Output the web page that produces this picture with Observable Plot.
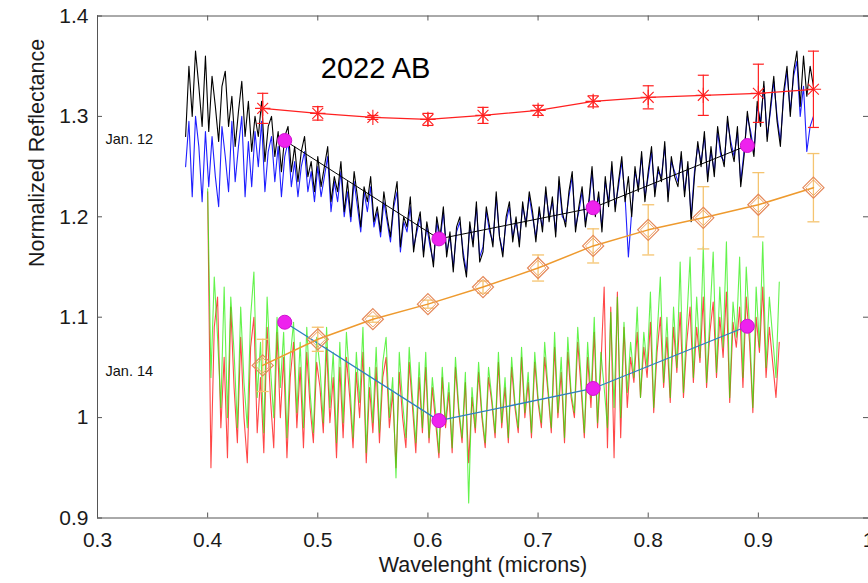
<!DOCTYPE html>
<html><head><meta charset="utf-8">
<script src="https://cdn.jsdelivr.net/npm/d3@7"></script>
<script src="https://cdn.jsdelivr.net/npm/@observablehq/plot@0.6"></script>
<style>body{margin:0;background:#fff}#chart{width:868px;height:583px;overflow:hidden}</style>
</head><body><div id="chart"></div>
<script>
// Tick labels
const xTicks = [0.3, 0.4, 0.5, 0.6, 0.7, 0.8, 0.9, 1.0];
const yTicks = [0.9, 1.0, 1.1, 1.2, 1.3, 1.4];
const xLabel = "Wavelenght (microns)";
const yLabel = "Normalized Reflectance";
const title = "2022 AB";
const dateLabels = ["Jan. 12", "Jan. 14"];

// Spectra sampling grids (start wavelength, step in microns)
const jan12Start = 0.38, jan14Start = 0.40, specStep = 0.003;

// Jan. 12 spectra (black and blue)
const jan12Black = [
 1.28,1.35,1.30,1.365,1.33,1.29,1.36,1.285,1.34,1.31,
 1.275,1.33,1.345,1.29,1.32,1.27,1.305,1.335,1.28,1.315,
 1.265,1.30,1.28,1.315,1.255,1.29,1.30,1.26,1.285,1.245,
 1.28,1.29,1.245,1.27,1.235,1.265,1.28,1.24,1.255,1.225,
 1.26,1.23,1.25,1.27,1.215,1.24,1.225,1.255,1.205,1.235,
 1.20,1.245,1.22,1.19,1.23,1.215,1.24,1.195,1.21,1.185,
 1.225,1.20,1.18,1.215,1.235,1.17,1.20,1.19,1.22,1.165,
 1.19,1.205,1.16,1.195,1.175,1.15,1.20,1.18,1.21,1.16,
 1.185,1.145,1.19,1.20,1.16,1.14,1.195,1.17,1.215,1.155,
 1.165,1.21,1.19,1.17,1.225,1.18,1.16,1.20,1.215,1.175,
 1.20,1.17,1.215,1.19,1.225,1.205,1.175,1.21,1.185,1.23,
 1.195,1.22,1.18,1.24,1.205,1.19,1.225,1.245,1.185,1.21,
 1.23,1.19,1.215,1.25,1.20,1.225,1.185,1.24,1.21,1.255,
 1.205,1.235,1.26,1.215,1.24,1.20,1.25,1.225,1.265,1.215,
 1.245,1.27,1.22,1.25,1.235,1.275,1.215,1.26,1.24,1.23,
 1.265,1.22,1.255,1.195,1.24,1.275,1.25,1.285,1.235,1.27,
 1.24,1.29,1.265,1.25,1.30,1.27,1.255,1.29,1.23,1.26,
 1.305,1.28,1.26,1.315,1.29,1.335,1.275,1.31,1.34,1.295,
 1.27,1.325,1.35,1.30,1.345,1.365,1.31,1.36,1.32,1.35,
 1.33];
const jan12Blue = [
 1.25,1.295,1.22,1.30,1.27,1.215,1.285,1.23,1.28,1.24,
 1.21,1.29,1.26,1.225,1.295,1.235,1.27,1.30,1.22,1.275,
 1.23,1.285,1.25,1.295,1.225,1.265,1.28,1.235,1.27,1.22,
 1.26,1.275,1.23,1.255,1.22,1.25,1.265,1.225,1.245,1.215,
 1.25,1.22,1.24,1.26,1.205,1.235,1.215,1.245,1.20,1.225,
 1.195,1.235,1.21,1.185,1.225,1.205,1.23,1.19,1.205,1.18,
 1.215,1.195,1.175,1.21,1.225,1.165,1.195,1.185,1.21,1.17,
 1.185,1.20,1.165,1.19,1.17,1.155,1.195,1.175,1.205,1.165,
 1.18,1.15,1.185,1.195,1.165,1.145,1.19,1.175,1.21,1.16,
 1.17,1.205,1.185,1.175,1.22,1.18,1.165,1.195,1.21,1.18,
 1.195,1.175,1.21,1.195,1.22,1.20,1.18,1.205,1.19,1.225,
 1.20,1.215,1.185,1.235,1.20,1.195,1.22,1.24,1.19,1.205,
 1.225,1.195,1.21,1.245,1.205,1.22,1.19,1.235,1.215,1.25,
 1.21,1.23,1.255,1.22,1.16,1.205,1.245,1.23,1.26,1.22,
 1.24,1.265,1.225,1.245,1.24,1.27,1.22,1.255,1.245,1.235,
 1.26,1.225,1.25,1.20,1.245,1.27,1.255,1.28,1.24,1.265,
 1.245,1.285,1.26,1.255,1.295,1.275,1.26,1.285,1.235,1.265,
 1.30,1.285,1.265,1.31,1.295,1.33,1.28,1.305,1.335,1.30,
 1.275,1.32,1.345,1.305,1.34,1.355,1.30,1.33,1.265,1.29,
 1.30];

// Jan. 14 spectra (red and green)
const jan14Red = [1.225,
 0.95,1.09,1.12,0.99,1.06,0.96,1.11,1.03,0.975,1.08,
 1.00,0.955,1.07,1.10,0.985,1.04,0.965,1.09,1.02,0.97,
 1.085,1.00,1.06,0.96,1.04,1.075,0.99,1.05,0.97,1.065,
 1.01,0.975,1.055,1.03,0.985,1.07,0.995,1.04,0.96,1.05,
 0.98,1.06,1.02,0.97,1.045,1.00,1.065,0.955,1.03,0.985,
 1.05,0.975,1.04,1.06,0.99,1.025,0.95,1.045,1.00,0.97,
 1.055,1.01,0.965,1.04,0.985,1.05,0.975,1.03,0.995,0.96,
 1.04,0.99,1.025,0.965,1.05,1.005,0.975,1.035,0.955,1.02,
 0.985,1.045,1.00,0.97,1.04,1.015,0.98,1.055,0.99,1.03,
 0.975,1.05,1.01,0.985,1.06,1.00,1.035,0.98,1.055,1.015,
 0.99,1.06,1.025,0.985,1.07,1.00,1.045,0.975,1.065,1.02,
 1.00,1.075,1.03,0.98,1.06,1.01,1.085,0.99,1.05,1.13,
 0.97,1.11,0.96,1.125,0.98,1.09,1.01,1.06,1.035,1.085,
 1.02,1.07,1.04,1.095,1.005,1.065,1.10,1.03,1.08,1.015,
 1.09,1.045,1.105,1.02,1.075,1.11,1.035,1.09,1.055,1.12,
 1.03,1.085,1.115,1.04,1.10,1.06,1.125,1.015,1.095,1.07,
 1.11,1.03,1.12,1.075,1.005,1.10,1.065,1.13,1.04,1.09,
 1.055,1.02,1.075];
const jan14Green = [1.228,
 1.04,1.14,1.08,1.01,1.13,1.00,1.12,1.065,0.99,1.11,
 1.035,0.99,1.10,1.145,1.02,1.075,0.985,1.12,1.05,1.00,
 1.10,1.03,1.085,0.98,1.06,1.095,1.005,1.075,0.99,1.09,
 1.025,0.985,1.08,1.05,0.995,1.09,1.01,1.065,0.975,1.075,
 0.995,1.085,1.035,0.98,1.065,1.015,1.09,0.965,1.05,0.995,
 1.07,0.985,1.055,1.08,1.00,1.04,0.94,1.065,1.015,0.98,
 1.07,1.02,0.975,1.055,0.99,1.065,0.98,1.04,1.005,0.965,
 1.05,0.995,1.035,0.97,1.06,1.01,0.98,1.045,0.915,1.03,
 0.99,1.055,1.005,0.975,1.05,1.02,0.985,1.065,0.995,1.04,
 0.98,1.06,1.015,0.99,1.07,1.005,1.045,0.985,1.065,1.02,
 0.995,1.075,1.03,0.99,1.085,1.005,1.06,0.98,1.08,1.025,
 1.005,1.09,1.04,0.985,1.075,1.02,1.10,0.995,1.065,1.03,
 0.99,1.105,1.01,1.12,1.00,1.095,1.025,1.075,1.04,1.11,
 1.02,1.085,1.05,1.125,1.01,1.08,1.14,1.035,1.10,1.02,
 1.11,1.05,1.155,1.025,1.095,1.16,1.04,1.12,1.06,1.17,
 1.035,1.10,1.165,1.045,1.13,1.07,1.175,1.02,1.115,1.08,
 1.16,1.04,1.15,1.09,1.01,1.13,1.07,1.175,1.05,1.12,
 1.08,1.04,1.135];

// Photometric points (magenta)
const photX = [0.47, 0.61, 0.75, 0.89];
const phot12 = [1.276, 1.178, 1.209, 1.271];
const phot14 = [1.095, 0.997, 1.029, 1.091];

// Red asterisk series with error bars
const refX = [0.45, 0.50, 0.55, 0.60, 0.65, 0.70, 0.75, 0.80, 0.85, 0.90, 0.95];
const redY = [1.308, 1.303, 1.299, 1.297, 1.301, 1.306, 1.315, 1.319, 1.321, 1.323, 1.327];
const redErr = [0.015, 0.0067, 0.002, 0.006, 0.008, 0.005, 0.0055, 0.0115, 0.02, 0.029, 0.038];
// Orange diamond series with error bars
const orangeY = [1.052, 1.078, 1.098, 1.113, 1.13, 1.149, 1.171, 1.187, 1.199, 1.212, 1.229];
const orangeErr = [0.026, 0.012, 0.003, 0.004, 0.006, 0.013, 0.017, 0.025, 0.031, 0.032, 0.034];

// ---- tables built from the arrays ----
const spec = (vals, start) => vals.map((y, i) => ({x: +(start + i * specStep).toFixed(4), y}));
const black12 = spec(jan12Black, jan12Start), blue12 = spec(jan12Blue, jan12Start);
const red14 = spec(jan14Red, jan14Start), green14 = spec(jan14Green, jan14Start);
const p12 = photX.map((x, i) => ({x, y: phot12[i]}));
const p14 = photX.map((x, i) => ({x, y: phot14[i]}));
const redPts = refX.map((x, i) => ({x, y: redY[i], e: redErr[i]}));
const orPts = refX.map((x, i) => ({x, y: orangeY[i], e: orangeErr[i]}));

const capSymbol = {draw(ctx, size) { const r = Math.sqrt(size / Math.PI); ctx.moveTo(-r, 0); ctx.lineTo(r, 0); }};

const axisCol = "#555";
const textCol = "#1a1a1a";
const font = "'Liberation Sans', Arial, Helvetica, sans-serif";
const W = 868, H = 583, mL = 97, mR = 0, mT = 15.5, mB = 65.5;
const fw = W - mL - mR, fh = H - mT - mB;

const chart = Plot.plot({
  width: W, height: H,
  marginLeft: mL, marginRight: mR, marginTop: mT, marginBottom: mB,
  x: {domain: [0.3, 1.0]},
  y: {domain: [0.9, 1.4]},
  style: {fontFamily: font, background: "#fff", color: textCol},
  marks: [
    // spectra
    Plot.line(blue12, {x: "x", y: "y", stroke: "#1f1fff", strokeWidth: 1.1}),
    Plot.line(black12, {x: "x", y: "y", stroke: "#000", strokeWidth: 1.1}),
    Plot.line(red14, {x: "x", y: "y", stroke: "#ff1a1a", strokeWidth: 1.1, strokeOpacity: 0.8}),
    Plot.line(green14, {x: "x", y: "y", stroke: "#22ee00", strokeWidth: 1.1, strokeOpacity: 0.7}),
    // connecting lines of photometric points
    Plot.line(p12, {x: "x", y: "y", stroke: "#000", strokeWidth: 1}),
    Plot.line(p14, {x: "x", y: "y", stroke: "#2f7fc0", strokeWidth: 1.3}),
    // orange series
    Plot.ruleX(orPts, {x: "x", y1: d => d.y - d.e, y2: d => d.y + d.e, stroke: "#f5c470", strokeWidth: 1.3}),
    Plot.dot(orPts, {x: "x", y: d => d.y - d.e, symbol: capSymbol, r: 6, stroke: "#f5c470", strokeWidth: 1.3}),
    Plot.dot(orPts, {x: "x", y: d => d.y + d.e, symbol: capSymbol, r: 6, stroke: "#f5c470", strokeWidth: 1.3}),
    Plot.line(orPts, {x: "x", y: "y", stroke: "#ee9a2e", strokeWidth: 1.5}),
    Plot.dot(orPts, {x: "x", y: "y", symbol: "diamond2", r: 9.5, stroke: "#e5895a", strokeWidth: 1.2, fill: "none"}),
    Plot.dot(orPts, {x: "x", y: "y", symbol: "diamond2", r: 7, stroke: "#eea060", strokeWidth: 1, fill: "none"}),
    // red asterisk series
    Plot.ruleX(redPts, {x: "x", y1: d => d.y - d.e, y2: d => d.y + d.e, stroke: "#ff2020", strokeWidth: 1.2}),
    Plot.dot(redPts, {x: "x", y: d => d.y - d.e, symbol: capSymbol, r: 5.5, stroke: "#ff2020", strokeWidth: 1.2}),
    Plot.dot(redPts, {x: "x", y: d => d.y + d.e, symbol: capSymbol, r: 5.5, stroke: "#ff2020", strokeWidth: 1.2}),
    Plot.line(redPts, {x: "x", y: "y", stroke: "#ff2020", strokeWidth: 1.2}),
    Plot.dot(redPts, {x: "x", y: "y", symbol: "plus", r: 5, stroke: "#ff2020", strokeWidth: 1.1}),
    Plot.dot(redPts, {x: "x", y: "y", symbol: "times", r: 5, stroke: "#ff2020", strokeWidth: 1.1}),
    // magenta points
    Plot.dot(p12, {x: "x", y: "y", r: 7, fill: "#ee22ee", stroke: "#d010d0", strokeWidth: 1}),
    Plot.dot(p14, {x: "x", y: "y", r: 7, fill: "#ee22ee", stroke: "#d010d0", strokeWidth: 1}),
    // frame (left, top, bottom) and inward ticks on all sides
    Plot.ruleX([0.3], {stroke: axisCol}),
    Plot.ruleY([0.9, 1.4], {stroke: axisCol}),
    Plot.ruleX(xTicks, {insetTop: fh - 5, stroke: axisCol}),
    Plot.ruleX(xTicks, {insetBottom: fh - 5, stroke: axisCol}),
    Plot.ruleY(yTicks, {insetRight: fw - 5, stroke: axisCol}),
    Plot.ruleY(yTicks, {insetLeft: fw - 5, stroke: axisCol}),
    // axes labels
    Plot.axisX({ticks: xTicks, tickSize: 0, tickPadding: 14, fontSize: 21, tickFormat: d3.format("~g"), label: null, fill: textCol}),
    Plot.axisY({ticks: yTicks, tickSize: 0, tickPadding: 9, fontSize: 21, tickFormat: d3.format("~g"), label: null, fill: textCol}),
    Plot.text([xLabel], {frameAnchor: "bottom", dy: 54, fontSize: 21.5, fill: textCol}),
    Plot.text([yLabel], {frameAnchor: "left", rotate: -90, dx: -60, fontSize: 21.5, fill: textCol}),
    // annotations
    Plot.text([title], {x: 0.5525, y: 1.347, fontSize: 29, fill: "#000"}),
    Plot.text([dateLabels[0]], {x: 0.3, y: 1.277, dx: 8, textAnchor: "start", fontSize: 14.5, fill: "#111"}),
    Plot.text([dateLabels[1]], {x: 0.3, y: 1.046, dx: 8, textAnchor: "start", fontSize: 14.5, fill: "#111"})
  ]
});
document.getElementById("chart").append(chart);
</script></body></html>
